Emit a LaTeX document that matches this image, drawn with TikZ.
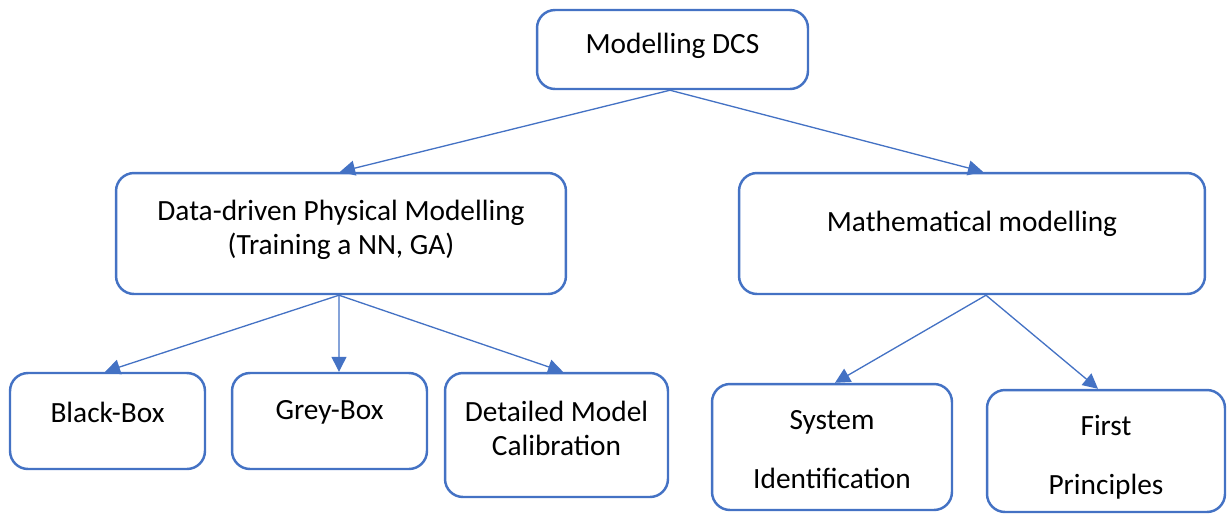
\documentclass[tikz,border=0pt]{standalone}
\usepackage{fontspec}
\setmainfont{Carlito}
\usetikzlibrary{arrows.meta}
\definecolor{boxblue}{HTML}{4472C4}
\begin{document}
\begin{tikzpicture}[x=0.02cm,y=-0.02cm,
        box/.style={draw=boxblue,line width=1.4pt,rounded corners=0.36cm,fill=white,inner sep=0pt},
        txt/.style={align=center,font=\fontsize{16.7}{19.4}\selectfont},
        link/.style={draw=boxblue,line width=0.75pt,-{Triangle[length=0.3cm,width=0.3cm]}}]
    \useasboundingbox (0,0) rectangle (1228,515);
    % boxes
    \node [box,minimum width=5.42cm,minimum height=1.58cm] (dcs) at (672.5,49.5) {};
    \node [box,minimum width=9cm,minimum height=2.42cm] (ddpm) at (341,233.5) {};
    \node [box,minimum width=9.32cm,minimum height=2.42cm] (math) at (972,233.5) {};
    \node [box,minimum width=3.9cm,minimum height=1.92cm] (bb) at (107.5,421) {};
    \node [box,minimum width=3.9cm,minimum height=1.92cm] (gb) at (329.5,421) {};
    \node [box,minimum width=4.46cm,minimum height=2.48cm] (det) at (556.5,435) {};
    \node [box,minimum width=4.8cm,minimum height=2.52cm] (sysid) at (832,447) {};
    \node [box,minimum width=4.76cm,minimum height=2.44cm] (fp) at (1106,451) {};
    % labels
    \node [txt] (dcstext) at (672.5,46) {Modelling DCS};
    \node [txt] (ddpmtext) at (341,230) {Data-driven Physical Modelling\\(Training a NN, GA)};
    \node [txt] (mathtext) at (972,224) {Mathematical modelling};
    \node [txt] (bbtext) at (107.5,412) {Black-Box};
    \node [txt] (gbtext) at (329.5,412) {Grey-Box};
    \node [txt] (dettext) at (556.5,428) {Detailed Model\\Calibration};
    \node [txt] (sysidtext) at (832,450) {System\\[14.2pt]Identification};
    \node [txt] (fptext) at (1106,457) {First\\[14.2pt]Principles};
    % arrows
    \draw [link] ([xshift=-0.05cm]dcs.south) -- ([xshift=-0.02cm]ddpm.north);
    \draw [link] ([xshift=-0.05cm]dcs.south) -- ([xshift=0.22cm]math.north);
    \draw [link] ([xshift=-0.04cm]ddpm.south) -- ([xshift=-0.05cm]bb.north);
    \draw [link] ([xshift=-0.04cm]ddpm.south) -- ([xshift=0.19cm]gb.north);
    \draw [link] ([xshift=-0.04cm]ddpm.south) -- ([xshift=0.13cm]det.north);
    \draw [link] ([xshift=0.28cm]math.south) -- ([xshift=0.06cm]sysid.north);
    \draw [link] ([xshift=0.28cm]math.south) -- ([xshift=-0.16cm]fp.north);
\end{tikzpicture}
\end{document}
